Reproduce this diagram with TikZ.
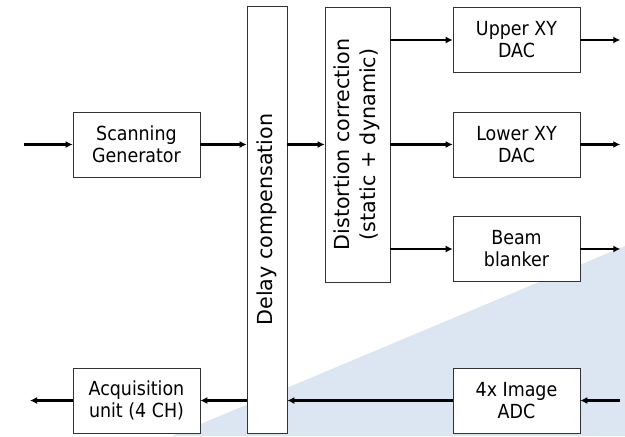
\documentclass[tikz,border=0pt]{standalone}
\usepackage{fontspec}
\setmainfont{DejaVu Sans}
\newfontfamily\condfont{DejaVu Sans Condensed}
\usetikzlibrary{arrows.meta}
\definecolor{bgblue}{RGB}{220,230,242}

\begin{document}
\begin{tikzpicture}[x=0.025cm,y=-0.025cm,
  blok/.style={draw=black!80,fill=white,align=center,inner sep=0pt,
    minimum width=3.175cm,minimum height=1.625cm,
    font=\condfont\fontsize{13.8}{15.6}\selectfont},
  tallblok/.style={draw=black!80,fill=white,inner sep=0pt,
    font=\fontsize{14.7}{18.5}\selectfont},
  sig/.style={line width=1.5pt,-{Latex[length=5pt,width=5pt]}}]
\useasboundingbox (0,0) rectangle (625,436);
\fill[bgblue] (625,246) -- (625,436) -- (172,436) -- cycle;
\node[blok] (scan) at (136.5,144.5) {Scanning\\Generator};
\node[tallblok,minimum width=1cm,minimum height=10.675cm] (delay) at (267,219.5)
  {\rotatebox{90}{Delay compensation}};
\node[tallblok,minimum width=1.625cm,minimum height=6.875cm] (dist) at (357.5,144.5)
  {\rotatebox{90}{\begin{tabular}{@{}c@{}}Distortion correction\\(static + dynamic)\end{tabular}}};
\node[blok] (upper) at (516.5,40) {Upper XY\\DAC};
\node[blok] (lower) at (516.5,144.5) {Lower XY\\DAC};
\node[blok] (beam) at (516.5,249) {Beam\\blanker};
\node[blok] (adc) at (516.5,400.5) {4x Image\\ADC};
\node[blok] (acq) at (136.5,400.5) {Acquisition\\unit (4 CH)};
\coordinate (in) at (24,144.5);
\coordinate (adcin) at (620,400.5);
\coordinate (acqout) at (30,400.5);
\draw[sig] (in) -- (scan);
\draw[sig] (scan) -- (scan -| delay.west);
\draw[sig] (delay.east |- scan) -- (dist.west |- scan);
\draw[sig] (dist.east |- upper) -- (upper);
\draw[sig] (dist.east |- lower) -- (lower);
\draw[sig] (dist.east |- beam) -- (beam);
\draw[sig] (upper.east) -- ++(40,0);
\draw[sig] (lower.east) -- ++(40,0);
\draw[sig] (beam.east) -- ++(40,0);
\draw[sig] (adcin) -- (adc);
\draw[sig] (adc) -- (adc -| delay.east);
\draw[sig] (delay.west |- acq) -- (acq);
\draw[sig] (acq) -- (acqout);
\end{tikzpicture}
\end{document}
